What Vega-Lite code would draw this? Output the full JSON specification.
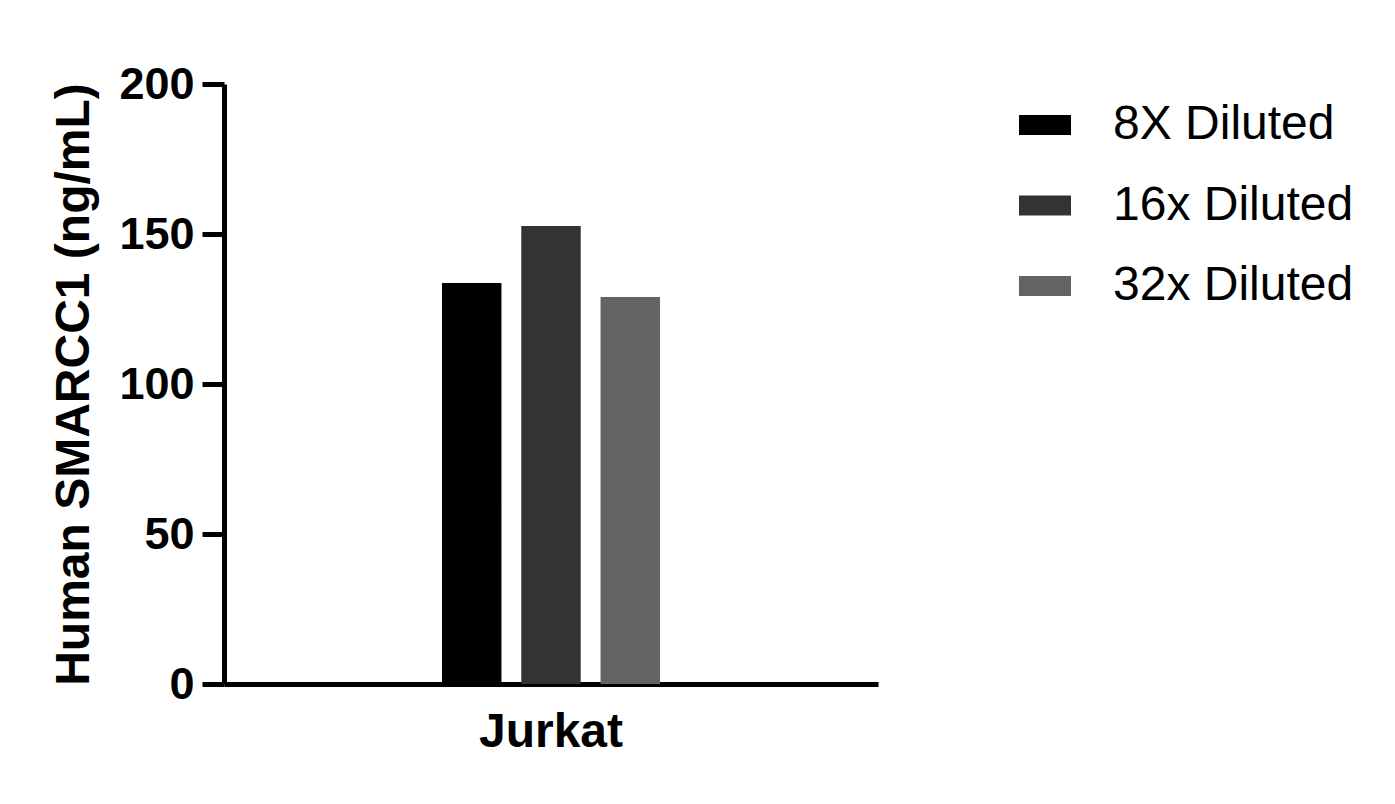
{
  "$schema": "https://vega.github.io/schema/vega-lite/v6.json",
  "autosize": "none",
  "width": 654,
  "height": 600,
  "padding": {"left": 224, "top": 84, "right": 517, "bottom": 120},
  "background": "white",
  "config": {"view": {"stroke": null}, "font": "Liberation Sans"},
  "data": {"values": [
    {"cell": "Jurkat", "dilution": "8X Diluted", "value": 133.7},
    {"cell": "Jurkat", "dilution": "16x Diluted", "value": 152.7},
    {"cell": "Jurkat", "dilution": "32x Diluted", "value": 129.0}
  ]},
  "mark": {"type": "bar"},
  "encoding": {
    "x": {
      "field": "cell", "type": "nominal",
      "scale": {"paddingInner": 0, "paddingOuter": 1.01},
      "axis": {
        "title": null, "labelAngle": 0, "ticks": false,
        "domain": true, "domainColor": "black", "domainWidth": 5,
        "labelFont": "Liberation Sans", "labelFontSize": 48, "labelFontWeight": "bold",
        "labelColor": "black", "labelPadding": 24
      }
    },
    "xOffset": {
      "field": "dilution", "type": "nominal",
      "sort": ["8X Diluted", "16x Diluted", "32x Diluted"],
      "scale": {"paddingInner": 0.25, "paddingOuter": 0}
    },
    "y": {
      "field": "value", "type": "quantitative",
      "scale": {"domain": [0, 200], "nice": false},
      "axis": {
        "title": "Human SMARCC1 (ng/mL)",
        "values": [0, 50, 100, 150, 200],
        "grid": false,
        "domainColor": "black", "domainWidth": 5,
        "tickColor": "black", "tickWidth": 5, "tickSize": 22,
        "labelFont": "Liberation Sans", "labelFontSize": 45, "labelFontWeight": "bold",
        "labelColor": "black", "labelPadding": 8,
        "titleFont": "Liberation Sans", "titleFontSize": 48, "titleFontWeight": "bold",
        "titleColor": "black", "titlePadding": 20
      }
    },
    "color": {
      "field": "dilution", "type": "nominal",
      "sort": ["8X Diluted", "16x Diluted", "32x Diluted"],
      "scale": {"domain": ["8X Diluted", "16x Diluted", "32x Diluted"], "range": ["#000000", "#333333", "#636363"]},
      "legend": {
        "title": null,
        "orient": "none", "legendX": 795, "legendY": 15,
        "padding": 0,
        "symbolType": "M-1,-0.385H1V0.385H-1Z",
        "symbolSize": 2704,
        "symbolStrokeWidth": 0,
        "labelFont": "Liberation Sans", "labelFontSize": 48, "labelColor": "black",
        "labelOffset": 42, "rowPadding": 30.5, "labelLimit": 400
      }
    }
  }
}
